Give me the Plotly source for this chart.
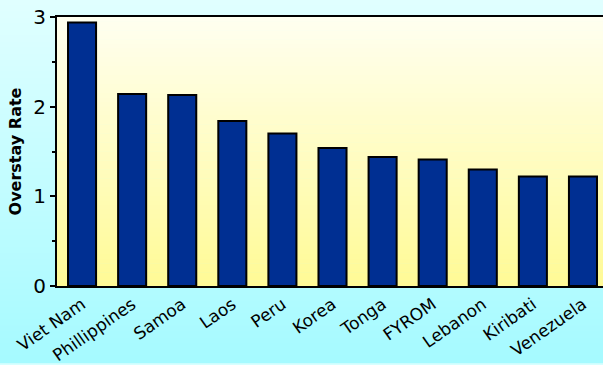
import plotly.graph_objects as go

countries = ["Viet Nam", "Phillippines", "Samoa", "Laos", "Peru", "Korea",
             "Tonga", "FYROM", "Lebanon", "Kiribati", "Venezuela"]
rates = [2.94, 2.14, 2.13, 1.84, 1.70, 1.54, 1.44, 1.41, 1.30, 1.22, 1.22]
y_ticks = [0, 1, 2, 3]


def lerp(c1, c2, t):
    return "rgb(%d,%d,%d)" % tuple(round(a + (b - a) * t) for a, b in zip(c1, c2))


W, H = 603, 365
L, R, T, B = 57, 0, 17, 77
ph = H - T - B
pw = W - L - R

shapes = []
N = 60
# paper background gradient (cyan) spanning whole figure
top_p, bot_p = (224, 255, 255), (166, 250, 255)
ytop = 1 + T / ph
ybot = -B / ph
for i in range(N):
    y1 = ytop - (ytop - ybot) * i / N
    y0 = ytop - (ytop - ybot) * (i + 1) / N
    shapes.append(dict(type="rect", xref="paper", yref="paper", x0=-L / pw - 0.01, x1=1.01,
                       y0=y0 - 0.003, y1=y1 + 0.003, line=dict(width=0),
                       fillcolor=lerp(top_p, bot_p, i / (N - 1)), layer="below"))

fig = go.Figure()
fig.add_trace(go.Bar(x=countries, y=rates, marker=dict(color="#002f92", line=dict(color="black", width=2)),
                     width=0.56))

# plot area gradient (yellow)
top_c, bot_c = (255, 255, 240), (255, 250, 150)
for i in range(N):
    y0 = 1 - (i + 1) / N
    y1 = 1 - i / N
    shapes.append(dict(type="rect", xref="x domain", yref="y domain", x0=0, x1=1,
                       y0=y0 - 0.001, y1=y1 + 0.001, line=dict(width=0),
                       fillcolor=lerp(top_c, bot_c, i / (N - 1)), layer="below"))

fig.update_layout(
    width=W, height=H,
    margin=dict(l=L, r=R, t=T, b=B),
    paper_bgcolor="#d8ffff", plot_bgcolor="rgba(0,0,0,0)",
    shapes=shapes, showlegend=False,
    font=dict(family="DejaVu Sans", color="black"),
    bargap=0.44,
)
fig.update_xaxes(range=[-0.5, 10.4], showline=True, linecolor="black", linewidth=2, mirror=True,
                 ticks="", tickangle=-35, tickfont=dict(size=17), showgrid=False)
fig.update_yaxes(range=[0, 3], tickvals=y_ticks, ticks="outside", ticklen=5, tickwidth=2,
                 tickcolor="black", showline=True, linecolor="black", linewidth=2,
                 showgrid=False, zeroline=False, tickfont=dict(size=20),
                 minor=dict(dtick=0.5, ticks="outside", ticklen=3, tickwidth=2, tickcolor="black"),
                 title=dict(text="<b>Overstay Rate</b>", font=dict(size=16), standoff=8))

fig.write_html("out.html")
